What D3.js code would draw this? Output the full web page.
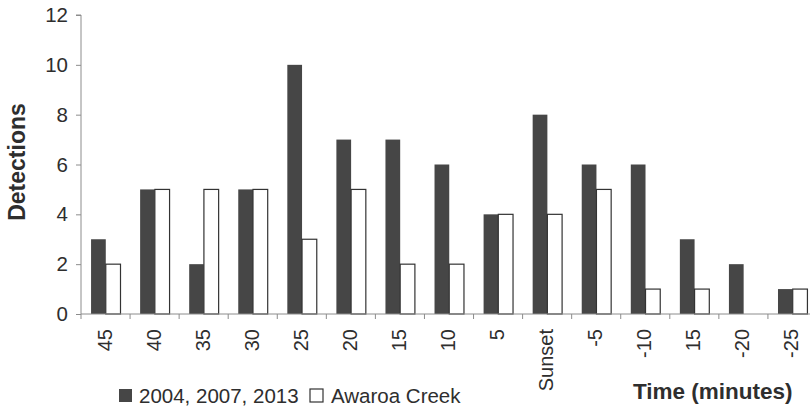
<!DOCTYPE html>
<html>
<head>
<meta charset="utf-8">
<script src="https://cdn.jsdelivr.net/npm/d3@7"></script>
<style>
  html, body { margin: 0; padding: 0; background: #fff; }
  svg { display: block; font-family: "Liberation Sans", Arial, sans-serif; }
</style>
</head>
<body>
<svg id="chart" width="810" height="410"></svg>
<script>
const categories = ["45","40","35","30","25","20","15","10","5","Sunset","-5","-10","15","-20","-25"];
const seriesNames = ["2004, 2007, 2013", "Awaroa Creek"];
const seriesA = [3,5,2,5,10,7,7,6,4,8,6,6,3,2,1];
const seriesB = [2,5,5,5,3,5,2,2,4,4,5,1,1,0,1];
const yTicks = [0,2,4,6,8,10,12];

const svg = d3.select("#chart");
const textColor = "#2e2e2e";
const darkFill = "#464646";
const axisColor = "#8c8c8c";

// categories contain a repeated label ("15"), so the band scale uses indices
const idx = categories.map((c,i) => i);
const x0 = d3.scaleBand().domain(idx).range([81, 817]).paddingInner(0).paddingOuter(0);
const x1 = d3.scaleBand().domain([0,1]).range([x0.bandwidth()*0.205, x0.bandwidth()*0.805]);
const y = d3.scaleLinear().domain([0,12]).range([314, 15]);

// bars
const data = categories.map((c,i) => ({i, cat: c, vals: [seriesA[i], seriesB[i]]}));
const groups = svg.append("g").selectAll("g").data(data).join("g")
  .attr("transform", d => `translate(${x0(d.i)},0)`);
groups.selectAll("rect").data(d => d.vals.map((v,k) => ({v, k}))).join("rect")
  .attr("x", d => x1(d.k))
  .attr("y", d => y(d.v))
  .attr("width", x1.bandwidth())
  .attr("height", d => y(0) - y(d.v))
  .attr("fill", d => d.k === 0 ? darkFill : "#fff")
  .attr("stroke", d => d.k === 0 ? "none" : "#333")
  .attr("stroke-width", 1.2);

// y axis
const yAxis = d3.axisLeft(y).tickValues(yTicks).tickSize(5).tickPadding(8);
const gy = svg.append("g").attr("transform", "translate(81,0)").call(yAxis);
gy.select(".domain").attr("stroke", axisColor).attr("d", `M-5,${y(12)}H0V${y(0)}`);
gy.selectAll(".tick line").attr("stroke", axisColor);
gy.selectAll(".tick text").attr("font-size", 20.5).attr("fill", textColor)
  .attr("font-family", "Liberation Sans, Arial, sans-serif");

// x axis
const xAxis = d3.axisBottom(x0).tickSize(0).tickFormat("");
const gx = svg.append("g").attr("transform", `translate(0,${y(0)})`).call(xAxis);
gx.select(".domain").attr("stroke", axisColor).attr("d", `M81,0H817`);
gx.selectAll(".tick").remove();
const bounds = idx.map(i => x0(i)).concat([x0(idx[idx.length-1]) + x0.bandwidth()]);
gx.selectAll("line.bound").data(bounds).join("line").attr("class","bound")
  .attr("x1", d => d).attr("x2", d => d).attr("y1", 0).attr("y2", 5)
  .attr("stroke", axisColor);
// rotated labels
svg.append("g").selectAll("text").data(data).join("text")
  .attr("transform", d => `translate(${x0(d.i) + x0.bandwidth()/2 - 1},329) rotate(-90)`)
  .attr("text-anchor", "end")
  .attr("dominant-baseline", "central")
  .attr("font-size", 20)
  .attr("fill", textColor)
  .text(d => d.cat);

// y title
svg.append("text")
  .attr("transform", "translate(17,162) rotate(-90)")
  .attr("text-anchor", "middle")
  .attr("dominant-baseline", "central")
  .attr("font-size", 23)
  .attr("font-weight", "bold")
  .attr("fill", textColor)
  .text("Detections");

// x title
svg.append("text")
  .attr("x", 633).attr("y", 399)
  .attr("font-size", 22.5)
  .attr("font-weight", "bold")
  .attr("fill", textColor)
  .text("Time (minutes)");

// legend
const legendItems = [
  {name: seriesNames[0], sx: 119, tx: 139, fill: darkFill, stroke: "none"},
  {name: seriesNames[1], sx: 310, tx: 331, fill: "#fff", stroke: "#333"}
];
const lg = svg.append("g").selectAll("g").data(legendItems).join("g");
lg.append("rect").attr("x", d => d.sx).attr("y", 389).attr("width", 13).attr("height", 13)
  .attr("fill", d => d.fill).attr("stroke", d => d.stroke).attr("stroke-width", 1.2);
lg.append("text").attr("x", d => d.tx).attr("y", 403)
  .attr("font-size", 20.5).attr("fill", textColor).text(d => d.name);
</script>
</body>
</html>
